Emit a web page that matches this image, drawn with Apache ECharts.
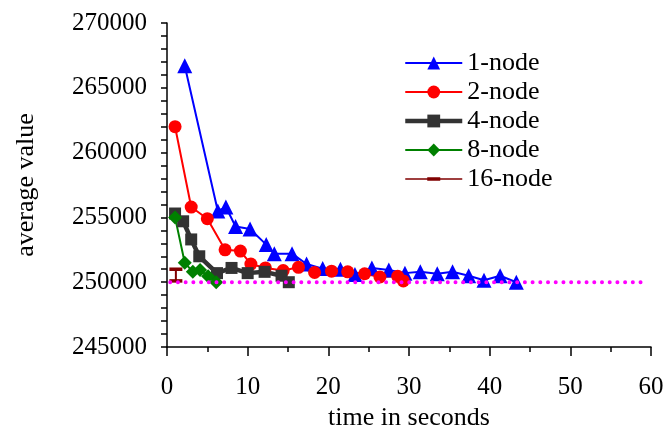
<!DOCTYPE html>
<html>
<head>
<meta charset="utf-8">
<script src="https://cdn.jsdelivr.net/npm/echarts@6/dist/echarts.min.js"></script>
<style>
  html, body { margin: 0; padding: 0; background: #fff; }
  #chart { width: 667px; height: 427px; }
</style>
</head>
<body>
<div id="chart"></div>
<script>
// values: [time in seconds, average value]
const node1 = [
  [2.2, 266700], [6.3, 255500], [7.3, 255800], [8.5, 254300], [10.3, 254100],
  [12.3, 252900], [13.3, 252200], [15.5, 252200], [17.3, 251400], [19.3, 251050],
  [21.5, 251000], [23.3, 250600], [25.4, 251100], [27.5, 250950], [29.5, 250700],
  [31.4, 250800], [33.5, 250650], [35.4, 250800], [37.4, 250500], [39.3, 250150],
  [41.3, 250500], [43.3, 250000],
];
const node2 = [
  [1, 262000], [3, 255800], [5, 254900], [7.2, 252500], [9.1, 252400],
  [10.4, 251400], [12.2, 251100], [14.4, 250900], [16.3, 251150], [18.3, 250750],
  [20.4, 250850], [22.4, 250800], [24.5, 250650], [26.4, 250400], [28.6, 250450],
  [29.3, 250100],
];
const node4 = [
  [1, 255300], [2, 254700], [3, 253300], [4, 252000], [6.2, 250700],
  [8, 251100], [10, 250700], [12.1, 250800], [14.2, 250500], [15.1, 250000],
];
const node8 = [
  [1, 255000], [2.2, 251500], [3.2, 250800], [4.1, 250950], [5.1, 250450], [6.1, 250000],
];
const node16 = [[1.1, 251000], [1.1, 250100]];
const targetLine = [[0.4, 250000], [59.5, 250000]];

const seriesNames = ['1-node', '2-node', '4-node', '8-node', '16-node'];
const fontFamily = '"Liberation Serif", "DejaVu Serif", serif';

// legend icon for 16-node: thin line with a short dash in the middle (corner dots fix the box)
const dashIcon = 'path://M0,0h0.01v0.01z M0,7.2h57v1.6h-57z M22,6.3h13v3.4h-13z M56.99,16h0.01v-0.01z';

const chart = echarts.init(document.getElementById('chart'), null, { renderer: 'canvas' });

const option = {
  animation: false,
  textStyle: { fontFamily: fontFamily, color: '#000' },
  grid: { left: 167, right: 16, top: 23, bottom: 80, outerBoundsMode: 'none' },
  legend: {
    data: [
      { name: seriesNames[0] },
      { name: seriesNames[1] },
      { name: seriesNames[2], lineStyle: { width: 4.5 } },
      { name: seriesNames[3] },
      { name: seriesNames[4], icon: dashIcon, itemStyle: { color: '#800000' } },
    ],
    orient: 'vertical',
    left: 398,
    top: 45,
    itemWidth: 57,
    itemHeight: 16,
    itemGap: 3,
    textStyle: { fontFamily: fontFamily, fontSize: 26, color: '#000' },
  },
  xAxis: {
    type: 'value',
    min: 0,
    max: 60,
    interval: 10,
    name: 'time in seconds',
    nameLocation: 'middle',
    nameGap: 55,
    nameTextStyle: { fontFamily: fontFamily, fontSize: 26, color: '#000' },
    axisLine: { onZero: false, lineStyle: { color: '#000', width: 1.5 } },
    axisTick: { show: true, length: 9, lineStyle: { color: '#000', width: 1.5 } },
    minorTick: { show: true, splitNumber: 2, length: 5, lineStyle: { color: '#000', width: 1.5 } },
    axisLabel: { margin: 28, fontFamily: fontFamily, fontSize: 25, color: '#000' },
    splitLine: { show: false },
  },
  yAxis: {
    type: 'value',
    min: 245000,
    max: 270000,
    interval: 5000,
    name: 'average value',
    nameLocation: 'middle',
    nameGap: 128,
    nameTextStyle: { fontFamily: fontFamily, fontSize: 26, color: '#000' },
    axisLine: { show: true, lineStyle: { color: '#000', width: 1.5 } },
    axisTick: { show: true, length: 6, lineStyle: { color: '#000', width: 1.5 } },
    minorTick: { show: true, splitNumber: 5, length: 6, lineStyle: { color: '#000', width: 1.5 } },
    axisLabel: {
      margin: 20,
      fontFamily: fontFamily,
      fontSize: 25,
      color: '#000',
      formatter: (v) => String(v),
    },
    splitLine: { show: false },
  },
  series: [
    {
      name: '1-node',
      type: 'line',
      data: node1,
      symbol: 'triangle',
      symbolSize: 15,
      color: '#0000ff',
      lineStyle: { width: 2, color: '#0000ff' },
      itemStyle: { color: '#0000ff' },
    },
    {
      name: '2-node',
      type: 'line',
      data: node2,
      symbol: 'circle',
      symbolSize: 13,
      color: '#ff0000',
      lineStyle: { width: 2, color: '#ff0000' },
      itemStyle: { color: '#ff0000' },
    },
    {
      name: '4-node',
      type: 'line',
      data: node4,
      symbol: 'rect',
      symbolSize: 12,
      color: '#333333',
      lineStyle: { width: 4.5, color: '#333333' },
      itemStyle: { color: '#333333' },
    },
    {
      name: '8-node',
      type: 'line',
      data: node8,
      symbol: 'diamond',
      symbolSize: 14,
      color: '#008000',
      lineStyle: { width: 2, color: '#008000' },
      itemStyle: { color: '#008000' },
    },
    {
      name: '16-node',
      type: 'line',
      data: node16,
      symbol: 'rect',
      symbolSize: [13, 3.5],
      color: '#800000',
      lineStyle: { width: 2, color: '#800000' },
      itemStyle: { color: '#800000' },
    },
    {
      name: 'target',
      type: 'line',
      data: targetLine,
      showSymbol: false,
      symbol: 'none',
      lineStyle: { width: 4, color: '#ff00ff', type: [0.01, 7.7], cap: 'round' },
      z: 5,
    },
  ],
};

chart.setOption(option);
</script>
</body>
</html>
